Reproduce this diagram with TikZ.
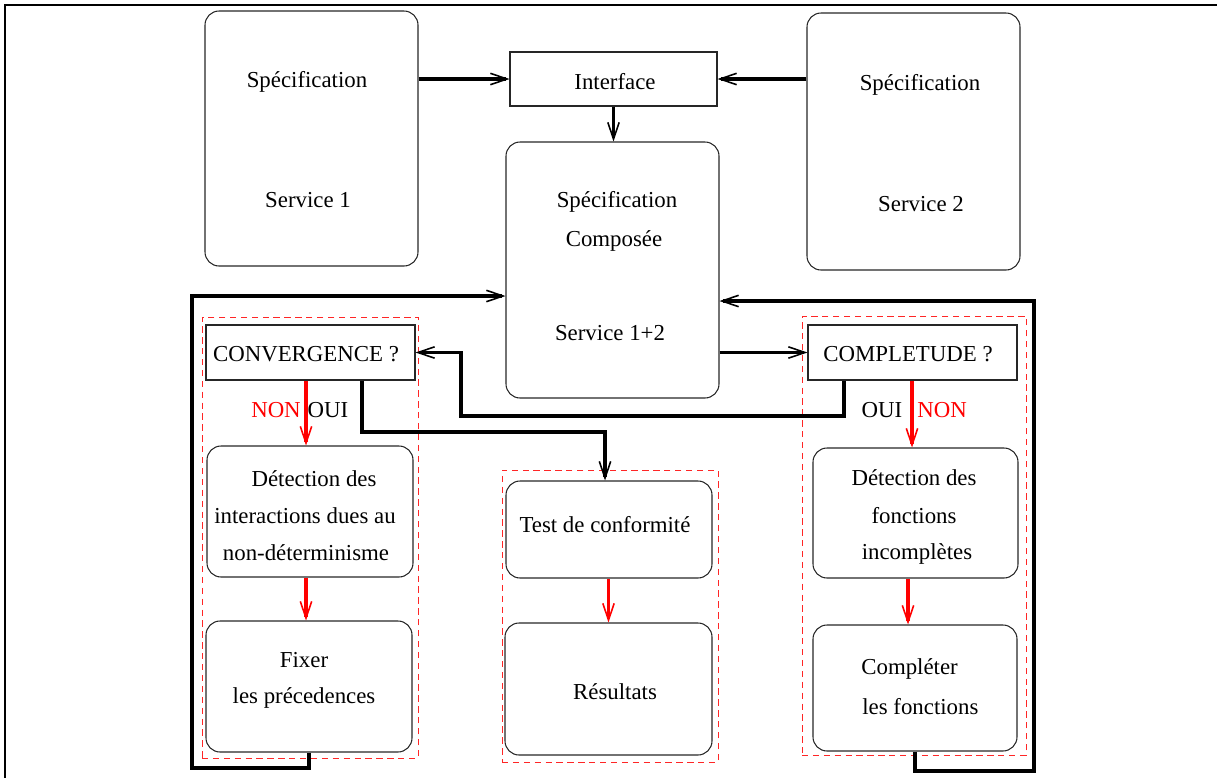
\documentclass[tikz,border=0pt]{standalone}
\usepackage{fontspec}
\setmainfont{Liberation Serif}
\usetikzlibrary{arrows.meta, fit, calc}

\tikzset{
 box/.style={draw=black!85, line width=.6pt, inner sep=0pt},
 rbox/.style={box, rounded corners=8pt},
 zone/.style={draw=red!85, dash pattern=on 3.6pt off 2.6pt, line width=.55pt, inner sep=0pt},
 link/.style={line width=2.1pt, -{Straight Barb[length=9.5pt, width=6.5pt, line width=.9pt]}},
 nlink/.style={link, draw=red},
 txt/.style={font=\fontsize{13}{15}\selectfont, inner sep=0pt, yshift=-1pt},
}

\begin{document}
\begin{tikzpicture}[x=0.02cm, y=-0.02cm]
 \useasboundingbox (0,0) rectangle (1217,778);
 \draw [line width=1.3pt] (1217,5) -- (5,5) -- (5,778);

 % dashed zones
 \node [zone, fit={(202,317) (418,758)}] (zconv) {};
 \node [zone, fit={(502,470) (718,762)}] (ztest) {};
 \node [zone, fit={(802,316) (1026,755)}] (zcompl) {};

 % top row
 \node [rbox, fit={(205,11) (418,266)}] (spec1) {};
 \node [txt] (spec1a) at (307,80) {Spécification};
 \node [txt] (spec1b) at (308,198) {Service 1};

 \node [box, fit={(510,52) (717,106)}] (iface) {};
 \node [txt] (ifacet) at (615,80) {Interface};

 \node [rbox, fit={(807,13) (1020,270)}] (spec2) {};
 \node [txt] (spec2a) at (920,83) {Spécification};
 \node [txt] (spec2b) at (921,202) {Service 2};

 \node [rbox, fit={(506,142) (719,398)}] (comp) {};
 \node [txt] (compa) at (617,200) {Spécification};
 \node [txt] (compb) at (614,239) {Composée};
 \node [txt] (compc) at (610,331) {Service 1+2};

 % convergence
 \node [box, fit={(206,325) (415,380)}] (conv) {};
 \node [txt] (convt) at (306,352) {CONVERGENCE ?};
 \node [rbox, fit={(207,446) (413,577)}] (det1) {};
 \node [txt] (det1a) at (314,477) {Détection des};
 \node [txt] (det1b) at (305,514) {interactions dues au};
 \node [txt] (det1c) at (306,551) {non-déterminisme};
 \node [rbox, fit={(206,621) (412,752)}] (fixer) {};
 \node [txt] (fixera) at (304,658) {Fixer};
 \node [txt] (fixerb) at (304,696) {les précedences};

 % test
 \node [rbox, fit={(506,481) (712,578)}] (test) {};
 \node [txt] (testt) at (605,523) {Test de conformité};
 \node [rbox, fit={(505,623) (712,755)}] (res) {};
 \node [txt] (rest) at (615,690) {Résultats};

 % completude
 \node [box, fit={(808,325) (1017,380)}] (complt) {};
 \node [txt] (complta) at (908,352) {COMPLETUDE ?};
 \node [rbox, fit={(813,448) (1018,578)}] (det2) {};
 \node [txt] (det2a) at (914,476) {Détection des};
 \node [txt] (det2b) at (914,514) {fonctions};
 \node [txt] (det2c) at (917,552) {incomplètes};
 \node [rbox, fit={(813,625) (1017,751)}] (compl) {};
 \node [txt, anchor=west] (compla) at (861,667) {Compléter};
 \node [txt, anchor=west] (complb) at (862,705) {les fonctions};

 % labels
 \node [txt, red] (non1) at (276,408) {NON};
 \node [txt] (oui1) at (328,408) {OUI};
 \node [txt] (oui2) at (882,408) {OUI};
 \node [txt, red] (non2) at (942,408) {NON};

 % links
 \draw [link] (spec1.east |- iface.west) -- (iface.west);
 \draw [link] (spec2.west |- iface.east) -- (iface.east);
 \draw [link] (iface.south) -- (iface.south |- comp.north);
 \draw [link] (comp.east |- complt.west) -- (complt.west);

 \coordinate (lb) at (192,768);
 \coordinate (lt) at (192,296);
 \draw [link] (fixer.south) |- (lb) -- (lt) -- (comp.west |- lt);

 \coordinate (rb) at (1034,771);
 \coordinate (rt) at (1034,301);
 \draw [link] (compl.south) |- (rb) -- (rt) -- (comp.east |- rt);

 \coordinate (c1) at (844,416);
 \coordinate (c2) at (461,416);
 \draw [link] (complt.south -| c1) -- (c1) -- (c2) |- (conv.east);

 \coordinate (d1) at (362,432);
 \coordinate (d2) at (605,432);
 \draw [link] (conv.south -| d1) -- (d1) -- (d2) -- (test.north -| d2);

 % red arrows
 \coordinate (na) at (306,0);
 \coordinate (nb) at (912,0);
 \coordinate (nc) at (908,0);
 \draw [nlink] (conv.south -| na) -- (det1.north -| na);
 \draw [nlink] (det1.south -| na) -- (fixer.north -| na);
 \draw [nlink] (test.south -| res.north) -- (res.north);
 \draw [nlink] (complt.south -| nb) -- (det2.north -| nb);
 \draw [nlink] (det2.south -| nc) -- (compl.north -| nc);
\end{tikzpicture}
\end{document}
